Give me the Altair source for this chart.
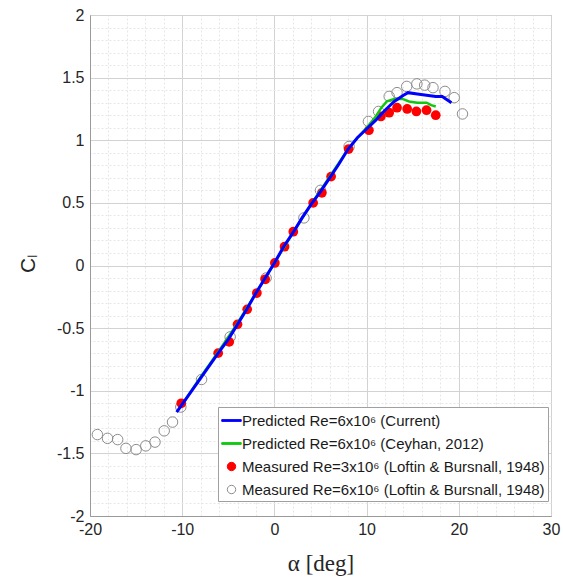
import altair as alt
import pandas as pd

S1 = "Predicted Re=6x10⁶ (Current)"
S2 = "Predicted Re=6x10⁶ (Ceyhan, 2012)"
S3 = "Measured Re=3x10⁶ (Loftin & Bursnall, 1948)"
S4 = "Measured Re=6x10⁶ (Loftin & Bursnall, 1948)"
series_names = [S1, S2, S3, S4]
series_colors = ["#0000ff", "#11c811", "#ff0000", "#8c8c8c"]
legend_fills = ["#0000ff", "#11c811", "#ff0000", "transparent"]
LINE_PATH = "M-1,-0.09H1V0.09H-1Z"
CIRCLE_PATH = "M0.43,0A0.43,0.43,0,1,1,-0.43,0A0.43,0.43,0,1,1,0.43,0Z"
legend_shapes = [LINE_PATH, LINE_PATH, CIRCLE_PATH, CIRCLE_PATH]

blue_alpha = [-10.6, -8, -6, -5, -4, -3, -2, -1, 0, 1, 2, 3, 4, 5, 6, 7, 8, 9, 10, 11,
              12, 13, 14, 14.5, 15.5, 16.5, 17.5, 18.2, 18.8, 19.2]
blue_cl = [-1.17, -0.90, -0.69, -0.59, -0.47, -0.35, -0.22, -0.10, 0.02, 0.15, 0.26, 0.38,
           0.49, 0.59, 0.70, 0.81, 0.93, 1.02, 1.09, 1.16, 1.24, 1.31, 1.36, 1.38, 1.37,
           1.36, 1.35, 1.35, 1.32, 1.30]

green_alpha = [-10, -8, -6, -4, -2, 0, 2, 4, 6, 8, 9, 10, 11, 11.6, 12.2, 13, 13.9, 14.6,
               15.5, 16.5, 17, 17.5]
green_cl = [-1.11, -0.89, -0.68, -0.46, -0.22, 0.02, 0.26, 0.49, 0.71, 0.93, 1.02, 1.10,
            1.19, 1.26, 1.31, 1.33, 1.33, 1.31, 1.30, 1.30, 1.28, 1.27]

red_alpha = [-10.1, -6.1, -4.9, -4.0, -2.95, -1.9, -1.0, 0.05, 1.1, 2.05, 4.2, 5.15, 6.15,
             8.05, 10.25, 11.55, 12.45, 13.3, 14.4, 15.4, 16.5, 17.5]
red_cl = [-1.10, -0.70, -0.61, -0.47, -0.35, -0.22, -0.11, 0.02, 0.15, 0.27, 0.50, 0.58,
          0.71, 0.93, 1.08, 1.19, 1.22, 1.26, 1.25, 1.23, 1.24, 1.20]

grey_alpha = [-19.2, -18.1, -17.0, -16.1, -15.0, -13.95, -12.95, -11.95, -11.05, -10.15,
              -7.9, -4.8, -0.9, 3.2, 5.0, 8.1, 10.2, 11.3, 12.45, 13.3, 14.35, 15.45, 16.3,
              17.2, 18.5, 19.5, 20.4]
grey_cl = [-1.35, -1.38, -1.39, -1.46, -1.47, -1.44, -1.41, -1.32, -1.25, -1.13,
           -0.91, -0.57, -0.10, 0.38, 0.60, 0.95, 1.15, 1.23, 1.35, 1.38, 1.43, 1.45, 1.44,
           1.42, 1.39, 1.34, 1.21]

x_major = [-20, -10, 0, 10, 20, 30]
y_major = [-2, -1.5, -1, -0.5, 0, 0.5, 1, 1.5, 2]
x_minor = [v for v in range(-20, 31, 2) if v % 10 != 0]
y_minor = [round(i * 0.1, 1) for i in range(-20, 21) if i % 5 != 0]

blue_df = pd.DataFrame({"alpha": blue_alpha, "cl": blue_cl})
green_df = pd.DataFrame({"alpha": green_alpha, "cl": green_cl})
red_df = pd.DataFrame({"alpha": red_alpha, "cl": red_cl})
grey_df = pd.DataFrame({"alpha": grey_alpha, "cl": grey_cl})
legend_df = pd.DataFrame({"alpha": [0.0] * 4, "cl": [0.0] * 4, "series": series_names})

FONT = "Liberation Sans"
xscale = alt.Scale(domain=[-20, 30], nice=False, zero=False)
yscale = alt.Scale(domain=[-2, 2], nice=False, zero=False)

x_axis_main = alt.Axis(
    values=x_major, grid=True, gridColor="#d2d2d2", gridWidth=1,
    labelExpr="toString(datum.value)", labelFont=FONT, labelFontSize=16,
    labelColor="#262626", labelPadding=5, labelFlush=False, labelOverlap=False,
    ticks=False, domainColor="#9a9a9a", orient="bottom",
    title="α [deg]", titleFont="Liberation Serif", titleFontSize=23,
    titleFontWeight="normal", titleColor="#262626", titleY=47, titleBaseline="middle",
)
y_axis_main = alt.Axis(
    values=y_major, grid=True, gridColor="#d2d2d2", gridWidth=1,
    labelExpr="toString(datum.value)", labelFont=FONT, labelFontSize=16,
    labelColor="#262626", labelPadding=6, labelOverlap=False,
    ticks=False, domainColor="#9a9a9a", orient="left",
    title="Cₗ", titleFont=FONT, titleFontSize=21, titleFontWeight="normal",
    titleColor="#262626", titleX=-62, titleY=248, titleBaseline="middle",
    titleAlign="center", titleAngle=270,
)
x_axis_minor = alt.Axis(
    values=x_minor, grid=True, gridColor="#e6e6e6", gridDash=[2, 2], gridWidth=1,
    labels=False, ticks=False, domain=False, title=None, orient="top",
)
y_axis_minor = alt.Axis(
    values=y_minor, grid=True, gridColor="#e6e6e6", gridDash=[2, 2], gridWidth=1,
    labels=False, ticks=False, domain=False, title=None, orient="right",
)

legend = alt.Legend(
    title=None, orient="none", legendX=128, legendY=392,
    fillColor="white", strokeColor="#a0a0a0", padding=3,
    labelFont=FONT, labelFontSize=15, labelColor="#1a1a1a", labelLimit=400,
    labelOffset=0, rowPadding=4, symbolSize=380, symbolStrokeWidth=1,
    symbolOpacity=1,
)


def sc(rng):
    return alt.Scale(domain=series_names, range=rng)


X = alt.X("alpha:Q", scale=xscale, axis=None)
Y = alt.Y("cl:Q", scale=yscale, axis=None)

grey = alt.Chart(grey_df).mark_point(
    filled=False, size=110, strokeWidth=1, color="#8c8c8c", opacity=1
).encode(
    x=alt.X("alpha:Q", scale=xscale, axis=x_axis_main),
    y=alt.Y("cl:Q", scale=yscale, axis=y_axis_main),
)
minor = alt.Chart(grey_df).mark_point(opacity=0).encode(
    x=alt.X("alpha:Q", scale=xscale, axis=x_axis_minor),
    y=alt.Y("cl:Q", scale=yscale, axis=y_axis_minor),
)
red = alt.Chart(red_df).mark_point(
    filled=True, size=95, color="#ff0000", opacity=1
).encode(x=X, y=Y)
green = alt.Chart(green_df).mark_line(strokeWidth=2.5, color="#11c811").encode(
    x=X, y=Y, order="alpha:Q"
)
blue = alt.Chart(blue_df).mark_line(strokeWidth=3, color="#0000ff").encode(
    x=X, y=Y, order="alpha:Q"
)
legend_layer = alt.Chart(legend_df).mark_point(filled=False, opacity=1).encode(
    x=X, y=Y,
    stroke=alt.Stroke("series:N", scale=sc(series_colors), legend=legend),
    fill=alt.Fill("series:N", scale=sc(legend_fills), legend=legend),
    shape=alt.Shape("series:N", scale=sc(legend_shapes), legend=legend),
).transform_filter("false")

chart = alt.layer(grey, minor, red, green, blue, legend_layer).resolve_axis(
    x="independent", y="independent"
).properties(
    width=461, height=501,
    padding={"left": 90, "top": 15, "right": 12, "bottom": 62},
    autosize="none", background="white",
).configure_view(stroke="#9a9a9a")

chart.save("out.html", embed_options={"renderer": "svg", "actions": False})
